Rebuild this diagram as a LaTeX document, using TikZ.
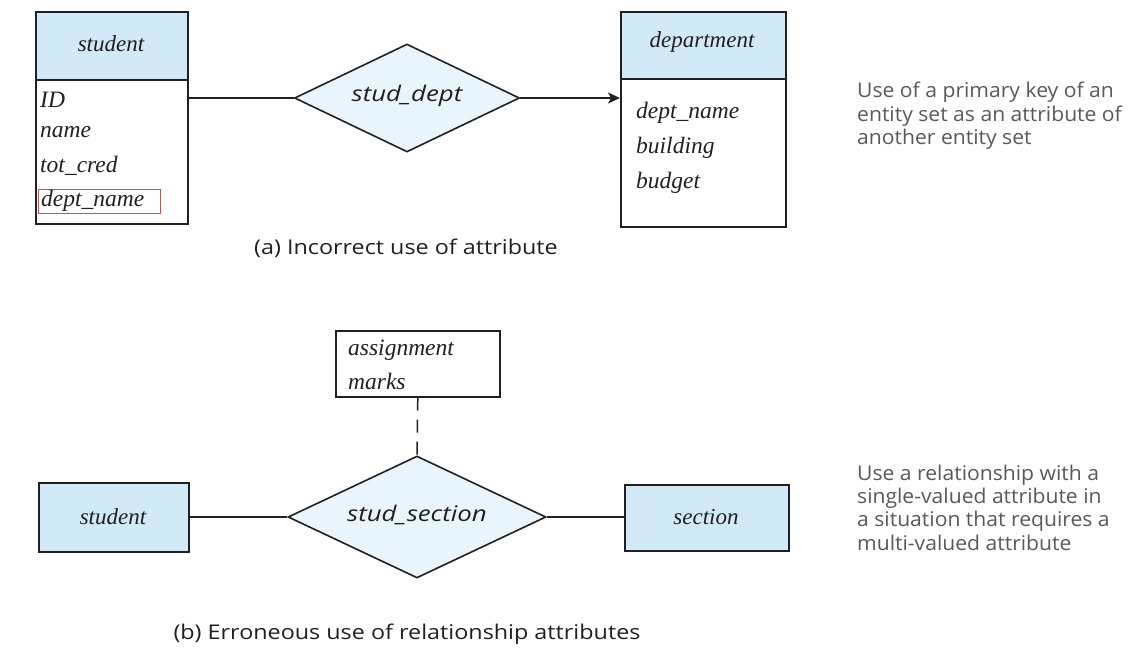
\documentclass[tikz,border=0pt]{standalone}
\usepackage{fontspec}
\setmainfont{Liberation Serif}
\newfontfamily\capf{Open Sans}[FakeStretch=1.15]
\newfontfamily\relf{Open Sans}[FakeStretch=1.2]
\newfontfamily\notef{Open Sans}[FakeStretch=1.04]
\usetikzlibrary{shapes.geometric,arrows.meta}
\definecolor{hdr}{HTML}{D2EAF7}
\definecolor{dia}{HTML}{E9F5FC}
\definecolor{ink}{HTML}{231F20}
\definecolor{note}{HTML}{58595B}
\definecolor{redbox}{HTML}{CC5536}
\tikzset{
  ebox/.style={draw=ink, line width=1.6pt, rectangle, anchor=north west, inner sep=0pt},
  hbox/.style={ebox, fill=hdr},
  rel/.style={draw=ink, line width=1.6pt, diamond, fill=dia, inner sep=0pt},
  attr/.style={anchor=west, inner sep=0pt, font=\fontsize{23.5}{23.5}\selectfont\itshape, text=ink},
  ename/.style={inner sep=0pt, font=\fontsize{23}{23}\selectfont\itshape, text=ink},
  rname/.style={inner sep=0pt, font=\relf\fontsize{21.5}{21.5}\selectfont\itshape, text=ink},
  captext/.style={inner sep=0pt, font=\capf\fontsize{20.3}{20.3}\selectfont, text=ink},
  notetext/.style={anchor=north west, inner sep=0pt, align=left, text=note, font=\notef\fontsize{20.3}{23.4}\selectfont},
  conn/.style={draw=ink, line width=1.5pt},
}
\begin{document}
\begin{tikzpicture}[x=1pt,y=-1pt]
\useasboundingbox (0,0) rectangle (1148,648);
% ---------- (a) ----------
\node[hbox, minimum width=152pt, minimum height=68pt] (sh) at (35,11) {};
\node[ebox, minimum width=152pt, minimum height=144pt] (sb) at (35,79) {};
\node[ename] (shn) at (111,44) {student};
\node[attr] (a1) at (40,100) {ID};
\node[attr] (a2) at (40,132) {name};
\node[attr] (a3) at (40,166) {tot\_cred};
\node[draw=redbox, line width=1.4pt, anchor=north west, minimum width=122pt, minimum height=24pt, inner sep=0pt] (rb) at (38,189) {};
\node[attr] (a4) at (41,201) {dept\_name};

\node[hbox, minimum width=165pt, minimum height=67pt] (dh) at (620,11) {};
\node[ebox, minimum width=165pt, minimum height=148pt] (db) at (620,78) {};
\node[ename] (dhn) at (702,42) {department};
\node[attr] (b1) at (636,113) {dept\_name};
\node[attr] (b2) at (636,148) {building};
\node[attr] (b3) at (636,183) {budget};

\node[rel, minimum width=225pt, minimum height=108pt] (dd) at (407,98) {};
\node[rname] (ddn) at (407,96) {stud\_dept};

\draw[conn] (dd.west -| sb.east) -- (dd.west);
\draw[conn, -{Stealth[length=12pt, width=11pt, inset=3pt]}] (dd.east) -- (dd.east -| db.west);

\node[captext] (capa) at (406,248) {(a) Incorrect use of attribute};
\node[notetext] (na) at (857,82) {Use of a primary key of an\\entity set as an attribute of\\another entity set};

% ---------- (b) ----------
\node[ebox, minimum width=164pt, minimum height=66pt] (asg) at (335,330) {};
\node[attr] (c1) at (348,350) {assignment};
\node[attr] (c2) at (348,381) {marks};

\node[rel, minimum width=258pt, minimum height=122pt] (ds) at (417,517) {};
\node[rname] (dsn) at (417,515) {stud\_section};

\node[hbox, minimum width=150pt, minimum height=69pt] (st) at (38,482) {};
\node[ename] (stn) at (113,517) {student};
\node[hbox, minimum width=164pt, minimum height=66pt] (se) at (624,484) {};
\node[ename] (sen) at (706,517) {section};

\draw[conn, dash pattern=on 13pt off 9pt] (asg.south) -- (ds.north);
\draw[conn] (ds.west -| st.east) -- (ds.west);
\draw[conn] (ds.east) -- (ds.east -| se.west);

\node[captext] (capb) at (407,634) {(b) Erroneous use of relationship attributes};
\node[notetext] (nb) at (857,464.5) {Use a relationship with a\\single-valued attribute in\\a situation that requires a\\multi-valued attribute};
\end{tikzpicture}
\end{document}
